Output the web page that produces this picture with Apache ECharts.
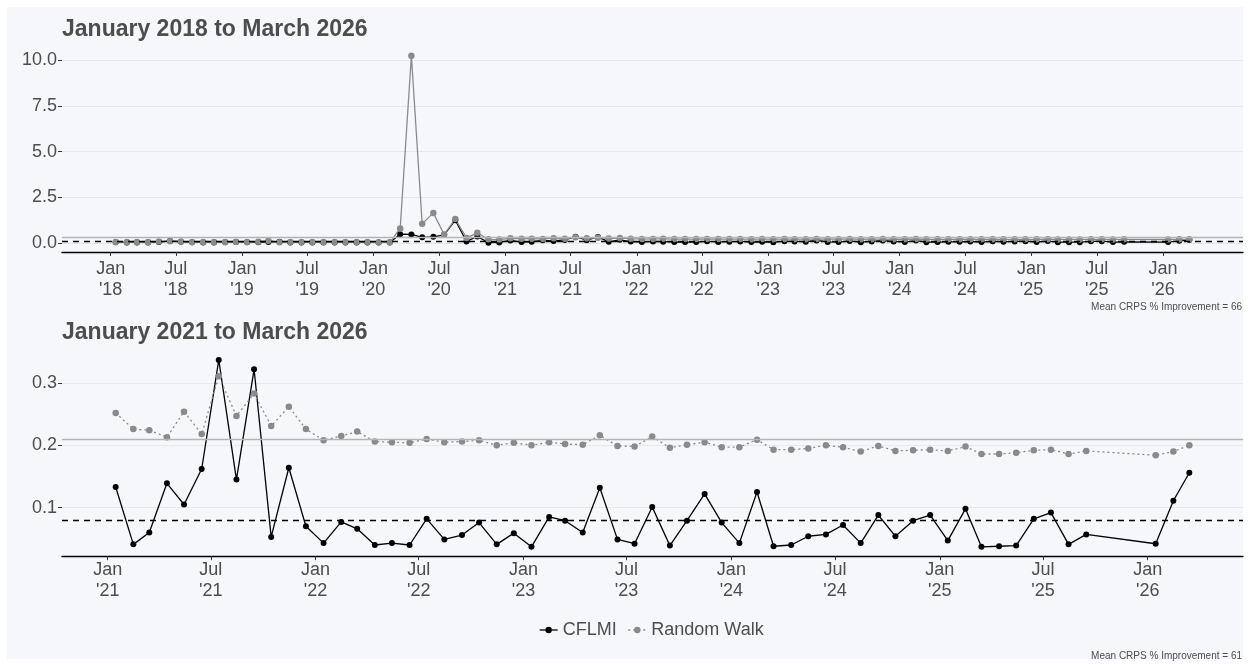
<!DOCTYPE html>
<html>
<head>
<meta charset="utf-8">
<script src="https://cdn.jsdelivr.net/npm/echarts@6/dist/echarts.min.js"></script>
<style>
  html, body { margin: 0; padding: 0; background: #fff; }
  #chart { width: 1250px; height: 666px; background: #F5F7FB; box-shadow: inset 0 0 0 7px #fff; }
</style>
</head>
<body>
<div id="chart"></div>
<script>
// months are 'YYYY-MM', points sit mid-month
function monthSpan(from, to) {
  let [y, m] = from.split('-').map(Number);
  const [ty, tm] = to.split('-').map(Number);
  const out = [];
  while (y < ty || (y === ty && m <= tm)) {
    out.push(y + '-' + String(m).padStart(2, '0'));
    m++; if (m > 12) { m = 1; y++; }
  }
  return out;
}

const months2018to2020 = monthSpan('2018-01', '2020-12');
const cflmi2018to2020 = [
  0.03, 0.02, 0.02, 0.02, 0.04, 0.11, 0.06, 0.03, 0.02, 0.02, 0.03, 0.04,
  0.03, 0.03, 0.05, 0.06, 0.02, 0.02, 0.02, 0.02, 0.02, 0.02, 0.02, 0.02,
  0.02, 0.02, 0.47, 0.46, 0.30, 0.33, 0.44, 1.24, 0.08, 0.35, 0.01, 0.02
];
const randomWalk2018to2020 = [
  0.04, 0.04, 0.04, 0.04, 0.07, 0.09, 0.07, 0.04, 0.04, 0.04, 0.04, 0.06,
  0.04, 0.06, 0.12, 0.03, 0.04, 0.04, 0.04, 0.04, 0.04, 0.04, 0.04, 0.04,
  0.03, 0.03, 0.79, 10.25, 1.04, 1.64, 0.46, 1.30, 0.27, 0.55, 0.19, 0.18
];

// Oct-Dec 2025 are missing
const months2021to2026 = monthSpan('2021-01', '2025-09').concat(['2026-01', '2026-02', '2026-03']);
const cflmi2021to2026 = [
  0.133, 0.041, 0.060, 0.139, 0.105, 0.162, 0.337, 0.145, 0.322, 0.053, 0.164, 0.070,
  0.043, 0.077, 0.066, 0.040, 0.043, 0.040, 0.082, 0.049, 0.056, 0.076, 0.041, 0.059,
  0.037, 0.085, 0.079, 0.060, 0.132, 0.049, 0.042, 0.101, 0.039, 0.079, 0.122, 0.076,
  0.043, 0.125, 0.038, 0.040, 0.054, 0.057, 0.072, 0.043, 0.088, 0.054, 0.079, 0.088,
  0.047, 0.098, 0.037, 0.038, 0.039, 0.082, 0.092, 0.041, 0.057,
  0.042, 0.111, 0.156
];
const randomWalk2021to2026 = [
  0.252, 0.226, 0.224, 0.213, 0.254, 0.218, 0.311, 0.247, 0.283, 0.231, 0.262, 0.226,
  0.208, 0.215, 0.222, 0.206, 0.205, 0.204, 0.210, 0.205, 0.206, 0.208, 0.200, 0.204,
  0.200, 0.205, 0.202, 0.201, 0.216, 0.199, 0.198, 0.214, 0.196, 0.201, 0.205, 0.197,
  0.197, 0.209, 0.193, 0.193, 0.195, 0.200, 0.197, 0.190, 0.199, 0.191, 0.192, 0.193,
  0.191, 0.198, 0.186, 0.186, 0.188, 0.192, 0.193, 0.186, 0.191,
  0.184, 0.190, 0.200
];

// reference lines (means)
const meanCflmiTop = 0.077;
const meanRandomWalkTop = 0.285;
const meanCflmiBottom = 0.082;
const meanRandomWalkBottom = 0.209;

const yTicksTop = [0, 2.5, 5, 7.5, 10];
const yTicksBottom = [0.1, 0.2, 0.3];
const xTickMonthsTop = monthSpan('2018-01', '2026-01').filter(s => /-(01|07)$/.test(s));
const xTickMonthsBottom = monthSpan('2021-01', '2026-01').filter(s => /-(01|07)$/.test(s));

const titles = ['January 2018 to March 2026', 'January 2021 to March 2026'];
const footnotes = ['Mean CRPS % Improvement = 66', 'Mean CRPS % Improvement = 61'];

const MON = ['Jan','Feb','Mar','Apr','May','Jun','Jul','Aug','Sep','Oct','Nov','Dec'];
const midMonth = s => { const [y, m] = s.split('-').map(Number); return Date.UTC(y, m - 1, 15); };
const monthStart = s => { const [y, m] = s.split('-').map(Number); return Date.UTC(y, m - 1, 1); };
const pairs = (months, vals) => months.map((s, i) => [midMonth(s), vals[i]]);
const expand = arr => { const lo = Math.min(...arr), hi = Math.max(...arr), r = hi - lo; return [lo - 0.05 * r, hi + 0.05 * r]; };

const topMonths = months2018to2020.concat(months2021to2026);
const topCflmi = cflmi2018to2020.concat(cflmi2021to2026);
const topRw = randomWalk2018to2020.concat(randomWalk2021to2026);

const xTop = expand(topMonths.map(midMonth));
const xBot = expand(months2021to2026.map(midMonth));
const yTop = expand(topCflmi.concat(topRw));
const yBot = expand(cflmi2021to2026.concat(randomWalk2021to2026));

const FONT = '"Liberation Sans", Arial, sans-serif';
const TXT = '#4d4d4d';
const GREY = '#8a8a8a';

function xAxis(idx, ext, ticks, margin) {
  const vals = ticks.map(monthStart);
  return {
    type: 'value', gridIndex: idx, min: ext[0], max: ext[1],
    axisLine: { show: true, onZero: false, lineStyle: { color: '#000', width: 1.3 } },
    axisTick: { show: true, customValues: vals, length: 4, lineStyle: { color: '#333', width: 1 } },
    axisLabel: {
      customValues: vals, color: TXT, fontSize: 18, lineHeight: 21, margin: margin, fontFamily: FONT,
      formatter: v => { const d = new Date(v); return MON[d.getUTCMonth()] + "\n'" + String(d.getUTCFullYear()).slice(2); }
    },
    splitLine: { show: false }
  };
}
function yAxis(idx, ext, ticks) {
  return {
    type: 'value', gridIndex: idx, min: ext[0], max: ext[1],
    axisLine: { show: false },
    axisTick: { show: true, customValues: ticks, length: 4, lineStyle: { color: '#333', width: 1 } },
    axisLabel: { customValues: ticks, color: TXT, fontSize: 18, margin: 5, fontFamily: FONT, formatter: v => v.toFixed(1) },
    splitLine: { show: true, lineStyle: { color: '#E6E8EC', width: 1 } }
  };
}
function meanLine(v, color, type) {
  return {
    silent: true, symbol: ['none', 'none'], label: { show: false },
    lineStyle: { color: color, width: 1.3, type: type },
    data: [{ yAxis: v }]
  };
}

const chart = echarts.init(document.getElementById('chart'), null, { renderer: 'canvas' });
chart.setOption({
  animation: false,
  backgroundColor: 'transparent',
  textStyle: { fontFamily: FONT },
  title: [
    { text: titles[0], left: 62, top: 18, padding: 0, textStyle: { fontSize: 23, fontWeight: 'bold', color: TXT, fontFamily: FONT } },
    { text: titles[1], left: 62, top: 321, padding: 0, textStyle: { fontSize: 23, fontWeight: 'bold', color: TXT, fontFamily: FONT } }
  ],
  grid: [
    { left: 62, width: 1181, top: 46.4, height: 205.6 },
    { left: 62, width: 1181, top: 350.6, height: 205.6 }
  ],
  xAxis: [xAxis(0, xTop, xTickMonthsTop, 7), xAxis(1, xBot, xTickMonthsBottom, 3)],
  yAxis: [yAxis(0, yTop, yTicksTop), yAxis(1, yBot, yTicksBottom)],
  legend: {
    data: [
      { name: 'CFLMI', lineStyle: { color: '#000', type: 'solid', width: 1.3 } },
      { name: 'Random Walk', lineStyle: { color: GREY, type: [2, 3], width: 1.3 } }
    ],
    left: 539, top: 621, padding: 0,
    itemWidth: 18, itemHeight: 8, itemGap: 11,
    textStyle: { fontSize: 18, color: TXT, fontFamily: FONT }
  },
  graphic: [
    { type: 'text', right: 8, top: 302, style: { text: footnotes[0], fill: TXT, font: '10px ' + FONT } },
    { type: 'text', right: 8, top: 651, style: { text: footnotes[1], fill: TXT, font: '10px ' + FONT } }
  ],
  series: [
    {
      name: 'CFLMI', type: 'line', xAxisIndex: 0, yAxisIndex: 0,
      data: pairs(topMonths, topCflmi), symbol: 'circle', symbolSize: 6,
      itemStyle: { color: '#000' }, lineStyle: { color: '#000', width: 1.3 },
      markLine: meanLine(meanCflmiTop, '#000', [6, 5])
    },
    {
      name: 'Random Walk', type: 'line', xAxisIndex: 0, yAxisIndex: 0,
      data: pairs(topMonths, topRw), symbol: 'circle', symbolSize: 6.5,
      itemStyle: { color: GREY }, lineStyle: { color: GREY, width: 1.3 },
      markLine: meanLine(meanRandomWalkTop, '#b5b5b5', 'solid')
    },
    {
      name: 'CFLMI', type: 'line', xAxisIndex: 1, yAxisIndex: 1,
      data: pairs(months2021to2026, cflmi2021to2026), symbol: 'circle', symbolSize: 6,
      itemStyle: { color: '#000' }, lineStyle: { color: '#000', width: 1.3 },
      markLine: meanLine(meanCflmiBottom, '#000', [6, 5])
    },
    {
      name: 'Random Walk', type: 'line', xAxisIndex: 1, yAxisIndex: 1,
      data: pairs(months2021to2026, randomWalk2021to2026), symbol: 'circle', symbolSize: 6.5,
      itemStyle: { color: GREY }, lineStyle: { color: GREY, width: 1.3, type: [2, 3] },
      markLine: meanLine(meanRandomWalkBottom, '#b5b5b5', 'solid')
    }
  ]
});
</script>
</body>
</html>
